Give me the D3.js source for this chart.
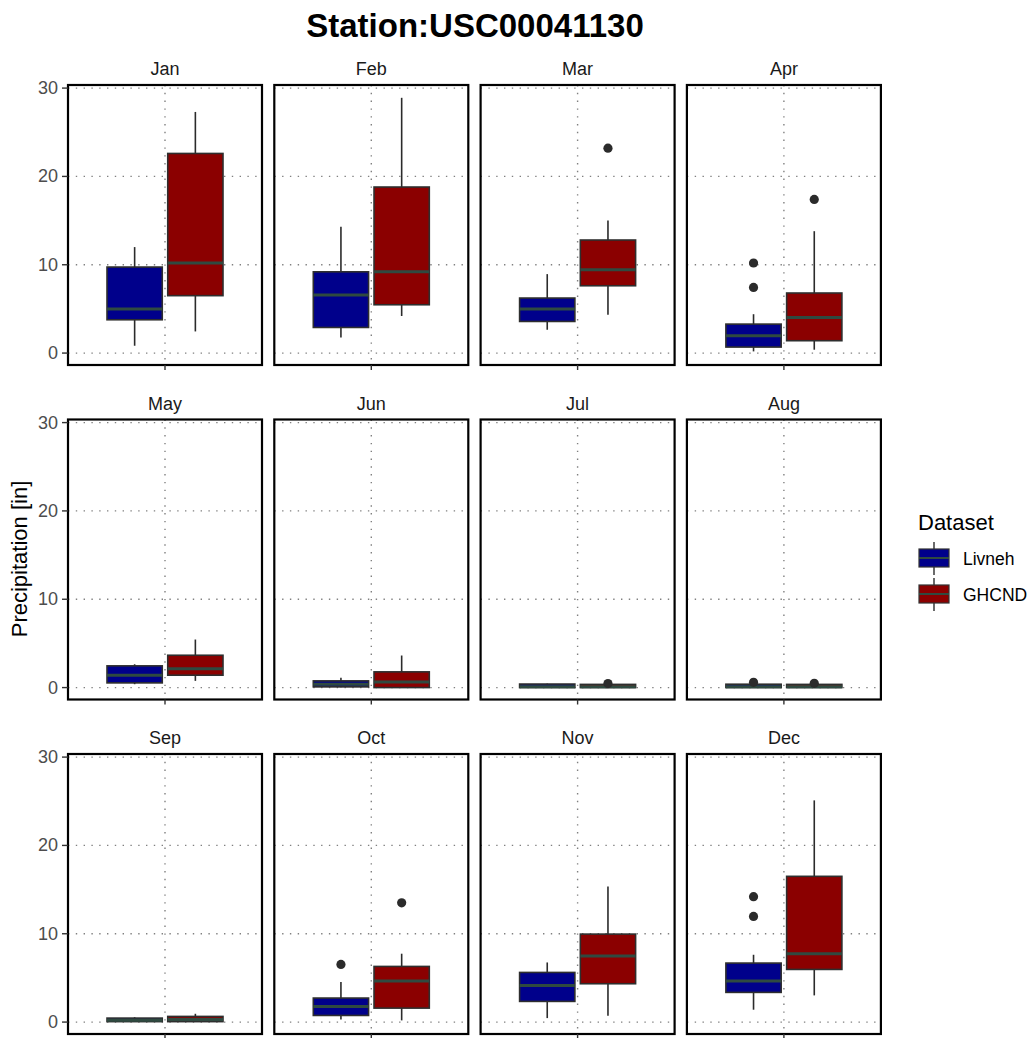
<!DOCTYPE html>
<html>
<head>
<meta charset="utf-8">
<script src="https://cdn.jsdelivr.net/npm/d3@7"></script>
<style>
  html, body { margin: 0; padding: 0; background: #ffffff; }
  svg { display: block; font-family: "Liberation Sans", Arial, sans-serif; }
</style>
</head>
<body>
<svg id="chart" width="1035" height="1038"></svg>
<script>
// Monthly precipitation distributions for one station, two datasets
const months = ["Jan", "Feb", "Mar", "Apr", "May", "Jun", "Jul", "Aug", "Sep", "Oct", "Nov", "Dec"];
const datasets = ["Livneh", "GHCND"];
const fillColors = ["#00008B", "#8B0000"];
const yTicks = [0, 10, 20, 30];

// [lower whisker, Q1, median, Q3, upper whisker] per month
const livnehStats = [
  [0.83, 3.77, 4.98, 9.74, 12.0],
  [1.77, 2.9, 6.57, 9.2, 14.3],
  [2.64, 3.58, 4.98, 6.23, 8.94],
  [0.19, 0.68, 1.96, 3.28, 4.4],
  [0.38, 0.53, 1.4, 2.46, 2.64],
  [0.04, 0.08, 0.38, 0.76, 1.1],
  [0.0, 0.0, 0.1, 0.4, 0.45],
  [0.0, 0.0, 0.08, 0.38, 0.42],
  [0.02, 0.05, 0.2, 0.45, 0.55],
  [0.3, 0.75, 1.77, 2.72, 4.53],
  [0.45, 2.34, 4.15, 5.62, 6.75],
  [1.4, 3.36, 4.64, 6.68, 7.62]
];
const ghcndStats = [
  [2.45, 6.5, 10.2, 22.6, 27.3],
  [4.2, 5.47, 9.2, 18.8, 28.9],
  [4.34, 7.62, 9.43, 12.8, 15.0],
  [0.38, 1.4, 4.04, 6.8, 13.8],
  [0.76, 1.4, 2.12, 3.66, 5.44],
  [0.0, 0.0, 0.64, 1.78, 3.63],
  [0.0, 0.0, 0.08, 0.36, 0.4],
  [0.0, 0.0, 0.08, 0.36, 0.4],
  [0.03, 0.05, 0.3, 0.64, 0.94],
  [0.19, 1.58, 4.64, 6.3, 7.74],
  [0.72, 4.34, 7.47, 9.96, 15.36],
  [3.02, 5.96, 7.74, 16.5, 25.1]
];
// Points beyond the whiskers
const livnehOutliers = [[], [], [], [10.2, 7.43], [], [], [], [0.6], [], [6.53], [], [14.2, 11.96]];
const ghcndOutliers = [[], [], [23.2], [17.4], [], [], [0.45], [0.48], [], [13.5], [], []];

const statsBySet = [livnehStats, ghcndStats];
const outliersBySet = [livnehOutliers, ghcndOutliers];

const svg = d3.select("#chart");

// Facet grid geometry
const nCols = 4;
const panelW = 194, panelH = 280;
const panelLeft0 = 68, panelStepX = 206.3;
const panelTop0 = 85, panelStepY = 334.5;

const y = d3.scaleLinear().domain([-1.35, 30.35]).range([panelH, 0]);

// Title
svg.append("text")
  .attr("x", 475).attr("y", 37)
  .attr("text-anchor", "middle")
  .attr("font-size", 33).attr("font-weight", "bold")
  .attr("fill", "#000")
  .text("Station:USC00041130");

// Y axis title
svg.append("text")
  .attr("transform", "translate(27,559) rotate(-90)")
  .attr("text-anchor", "middle")
  .attr("font-size", 22)
  .attr("fill", "#000")
  .text("Precipitation [in]");

months.forEach((m, i) => {
  const col = i % nCols, row = Math.floor(i / nCols);
  const px = panelLeft0 + col * panelStepX;
  const py = panelTop0 + row * panelStepY;
  const g = svg.append("g").attr("transform", `translate(${px},${py})`);
  const cx = panelW / 2;

  const x = d3.scaleBand().domain(datasets).range([cx - 58, cx + 58]).paddingInner(0.09);

  // strip label
  g.append("text")
    .attr("x", cx).attr("y", -16)
    .attr("text-anchor", "middle").attr("dominant-baseline", "central")
    .attr("font-size", 18).attr("fill", "#1a1a1a")
    .text(m);

  // dotted grid
  const grid = g.append("g").attr("stroke", "#808080").attr("stroke-width", 1.4)
    .attr("stroke-dasharray", "1.4,6.4");
  grid.selectAll("line.h").data(yTicks).join("line")
    .attr("x1", 0).attr("x2", panelW)
    .attr("y1", d => y(d)).attr("y2", d => y(d));
  grid.append("line").attr("x1", cx).attr("x2", cx).attr("y1", 0).attr("y2", panelH);

  // boxes
  datasets.forEach((ds, k) => {
    const s = statsBySet[k][i];
    const bx = x(ds), bw = x.bandwidth(), mid = bx + bw / 2;
    const bg = g.append("g");
    bg.append("line")
      .attr("x1", mid).attr("x2", mid)
      .attr("y1", y(s[0])).attr("y2", y(s[4]))
      .attr("stroke", "#2b2b2b").attr("stroke-width", 1.6);
    bg.append("rect")
      .attr("x", bx).attr("width", bw)
      .attr("y", y(s[3])).attr("height", Math.max(0, y(s[1]) - y(s[3])))
      .attr("fill", fillColors[k])
      .attr("stroke", "#2e2e2e").attr("stroke-width", 1.6);
    bg.append("line")
      .attr("x1", bx).attr("x2", bx + bw)
      .attr("y1", y(s[2])).attr("y2", y(s[2]))
      .attr("stroke", "#2f4a40").attr("stroke-width", 3);
    bg.selectAll("circle").data(outliersBySet[k][i]).join("circle")
      .attr("cx", mid).attr("cy", d => y(d)).attr("r", 4.6)
      .attr("fill", "#2b2b2b");
  });

  // panel border
  g.append("rect")
    .attr("x", 0).attr("y", 0).attr("width", panelW).attr("height", panelH)
    .attr("fill", "none").attr("stroke", "#000").attr("stroke-width", 2.2);

  // x tick (single discrete position)
  g.append("line")
    .attr("x1", cx).attr("x2", cx).attr("y1", panelH).attr("y2", panelH + 5)
    .attr("stroke", "#333").attr("stroke-width", 1.4);

  // y axis on first column
  if (col === 0) {
    const ax = g.append("g");
    ax.selectAll("line").data(yTicks).join("line")
      .attr("x1", -6).attr("x2", 0)
      .attr("y1", d => y(d)).attr("y2", d => y(d))
      .attr("stroke", "#333").attr("stroke-width", 1.4);
    ax.selectAll("text").data(yTicks).join("text")
      .attr("x", -10).attr("y", d => y(d))
      .attr("text-anchor", "end").attr("dominant-baseline", "central")
      .attr("font-size", 18).attr("fill", "#4d4d4d")
      .text(d => d);
  }
});

// Legend
const legend = svg.append("g").attr("transform", "translate(918,0)");
legend.append("text")
  .attr("x", 0).attr("y", 522)
  .attr("dominant-baseline", "central")
  .attr("font-size", 22).attr("fill", "#000")
  .text("Dataset");
datasets.forEach((ds, k) => {
  const top = 549 + k * 36;
  const kg = legend.append("g");
  kg.append("line").attr("x1", 16).attr("x2", 16).attr("y1", top - 7).attr("y2", top + 26)
    .attr("stroke", "#2b2b2b").attr("stroke-width", 1.4);
  kg.append("rect").attr("x", 1).attr("y", top).attr("width", 30).attr("height", 18)
    .attr("fill", fillColors[k]).attr("stroke", "#333").attr("stroke-width", 1.2);
  kg.append("line").attr("x1", 1).attr("x2", 31).attr("y1", top + 9).attr("y2", top + 9)
    .attr("stroke", "#2f4a40").attr("stroke-width", 2);
  kg.append("text").attr("x", 45).attr("y", top + 10)
    .attr("dominant-baseline", "central")
    .attr("font-size", 17.5).attr("fill", "#000")
    .text(ds);
});
</script>
</body>
</html>
